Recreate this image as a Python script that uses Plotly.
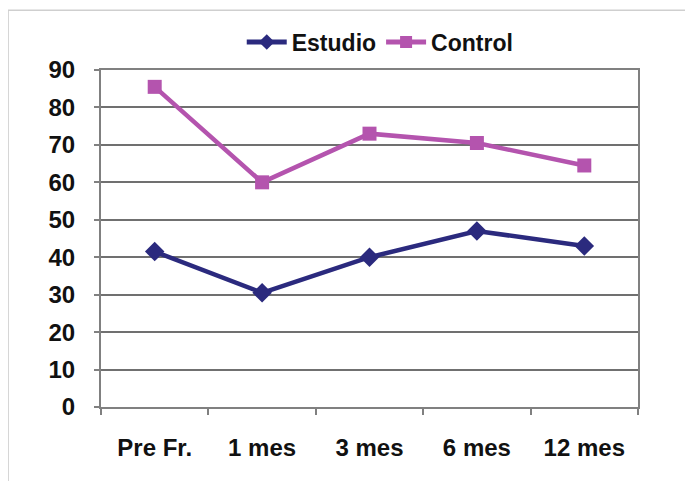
import plotly.graph_objects as go

categories = ["Pre Fr.", "1 mes", "3 mes", "6 mes", "12 mes"]
estudio = [41.5, 30.5, 40, 47, 43]
control = [85.5, 60, 73, 70.5, 64.5]
y_ticks = [0, 10, 20, 30, 40, 50, 60, 70, 80, 90]

FONT = "Liberation Sans, Arial, sans-serif"

fig = go.Figure()
fig.add_trace(go.Scatter(
    x=categories, y=estudio, name="Estudio", mode="lines+markers",
    line=dict(color="#2B2A7E", width=4.5),
    marker=dict(symbol="diamond", size=15, color="#2B2A7E"),
))
fig.add_trace(go.Scatter(
    x=categories, y=control, name="Control", mode="lines+markers",
    line=dict(color="#B454AE", width=4.5),
    marker=dict(symbol="square", size=14, color="#B454AE"),
))

fig.update_layout(
    width=693, height=481,
    margin=dict(l=93, r=63, t=60, b=82),
    paper_bgcolor="white", plot_bgcolor="white",
    font=dict(family=FONT, size=24, color="#111111", weight="bold"),
    showlegend=True,
    legend=dict(orientation="h", x=0.52, xanchor="center", y=1.083, yanchor="middle",
                font=dict(family=FONT, size=23, weight="bold"),
                itemwidth=40, itemsizing="constant", tracegroupgap=0,
                bgcolor="rgba(0,0,0,0)"),
    shapes=[dict(type="rect", xref="paper", yref="paper",
                 x0=-0.173, x1=1.095, y0=-0.3, y1=1.177,
                 line=dict(color="#cfcfcf", width=1.5), layer="below")],
)
fig.update_xaxes(
    type="category", range=[-0.5, 4.5],
    showline=True, linecolor="#808080", linewidth=2, mirror=True,
    ticks="outside", tickson="boundaries", ticklen=6, tickcolor="#808080", tickwidth=2,
    showgrid=False, ticklabelstandoff=18,
    tickfont=dict(family=FONT, size=24, weight="bold"),
)
fig.update_yaxes(
    range=[0, 90], tickvals=y_ticks,
    showline=True, linecolor="#808080", linewidth=2, mirror=True,
    ticks="outside", ticklen=5, tickcolor="#808080", tickwidth=2,
    showgrid=True, gridcolor="#707070", gridwidth=1.8,
    zeroline=False, ticklabelstandoff=14,
    tickfont=dict(family=FONT, size=24, weight="bold"),
)

fig.write_html("out.html")
